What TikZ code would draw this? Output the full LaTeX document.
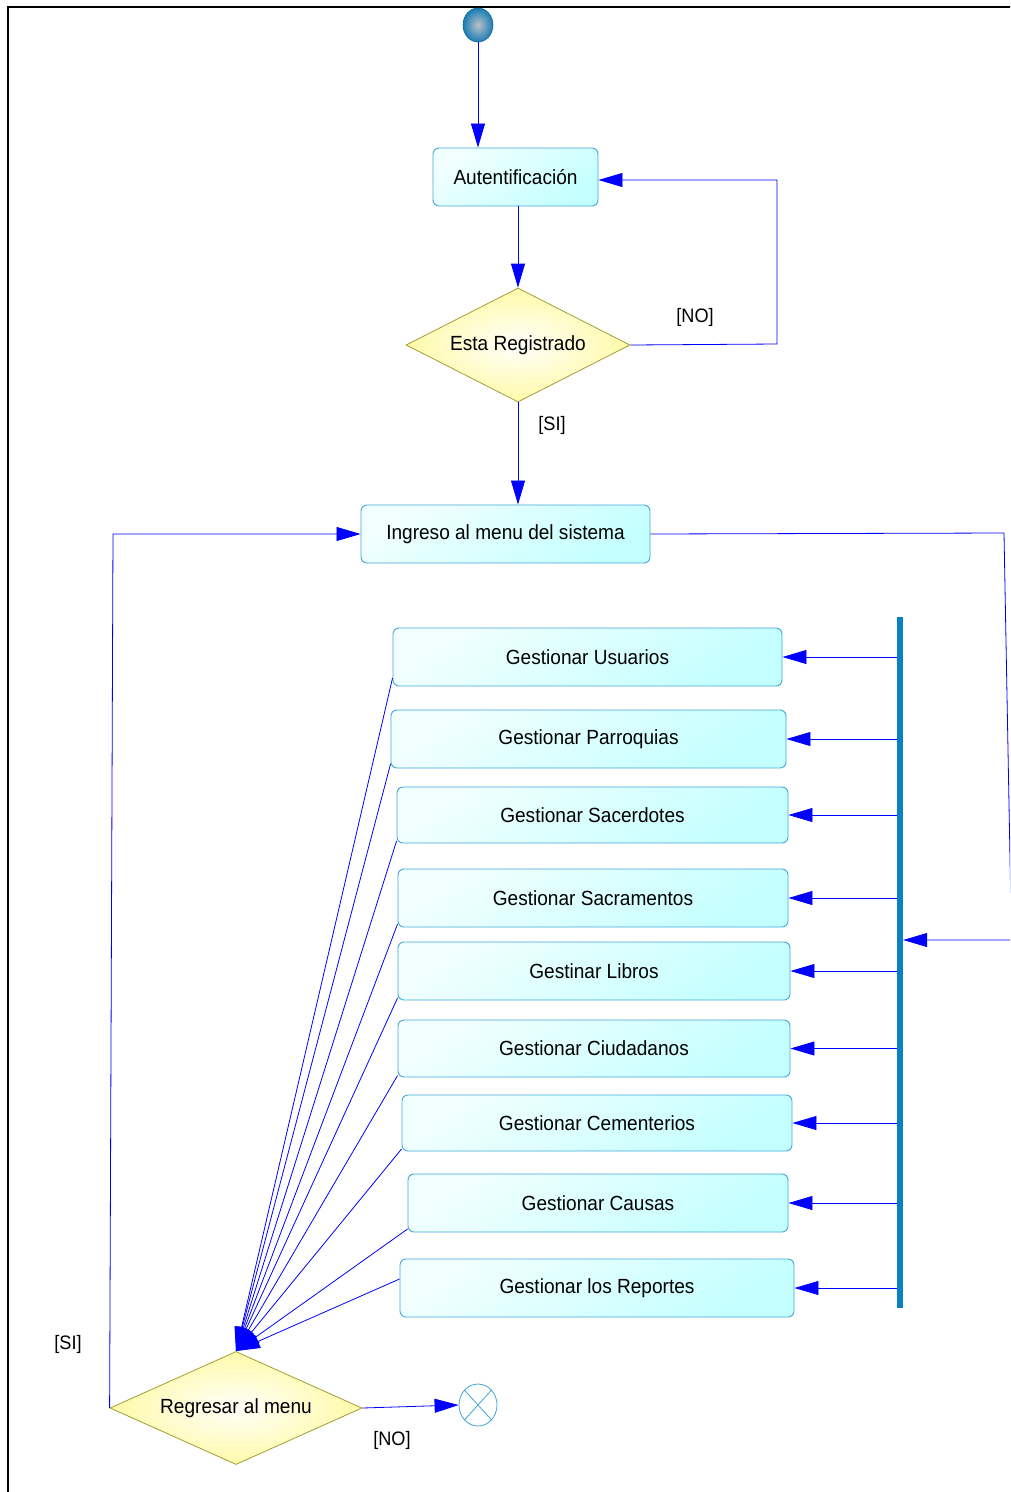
\documentclass[tikz,border=0pt]{standalone}
\usepackage{fontspec}
\setmainfont[FakeStretch=0.93]{Liberation Sans}
\usetikzlibrary{shapes.geometric,arrows.meta,calc}

\definecolor{flow}{RGB}{0,0,255}
\definecolor{boxedge}{RGB}{64,168,216}
\definecolor{boxlight}{RGB}{242,255,255}
\definecolor{boxdark}{RGB}{196,255,255}
\definecolor{decedge}{RGB}{160,160,50}
\definecolor{declight}{RGB}{255,255,250}
\definecolor{decdark}{RGB}{255,250,170}
\definecolor{barblue}{RGB}{10,130,194}
\definecolor{ballin}{RGB}{185,192,200}
\definecolor{ballout}{RGB}{25,125,180}

\begin{document}
\begin{tikzpicture}[x=1pt,y=-1pt,
  font=\fontsize{20.5}{24}\selectfont,
  activity/.style={rectangle, rounded corners=6pt, draw=boxedge, line width=0.9pt,
    top color=boxlight, bottom color=boxdark, shading angle=35,
    minimum height=58pt, inner sep=0pt},
  decision/.style={diamond, shape aspect=2.2, draw=decedge, line width=0.8pt,
    inner color=declight, outer color=decdark, inner sep=0pt},
  startnode/.style={ellipse, minimum width=30pt, minimum height=34pt, inner sep=0pt,
    inner color=ballin, outer color=ballout, draw=ballout!85!black, line width=0.6pt},
  endnode/.style={ellipse, minimum width=38pt, minimum height=42pt, inner sep=0pt,
    draw=boxedge, line width=0.8pt, fill=white},
  forkbar/.style={rectangle, fill=barblue, minimum width=6pt, minimum height=691pt, inner sep=0pt},
  flowline/.style={draw=flow, line width=0.8pt},
  flowarrow/.style={flowline, -{Triangle[length=24pt,width=14pt]}},
  guard/.style={inner sep=0pt, font=\fontsize{19.5}{22}\selectfont}]

\useasboundingbox (0,0) rectangle (1010,1492);
\clip (0,0) rectangle (1010,1492);

% page frame
\draw[line width=2pt] (8,1500) -- (8,7) -- (1020,7);

% login part
\node[startnode] (start) at (478,25) {};
\node[activity, minimum width=165pt] (aut) at (515.5,177) {Autentificación};
\node[decision, minimum width=224pt, minimum height=114pt] (reg) at (518,345) {Esta Registrado};
\node[activity, minimum width=289pt] (ing) at (505.5,534) {Ingreso al menu del sistema};

\node[guard] (noReg) at (695,317) {[NO]};
\node[guard] (siReg) at (552,425) {[SI]};

\draw[flowarrow] (start.south) -- (start.south |- aut.north);
\draw[flowarrow] (reg.north |- aut.south) -- (reg.north);
\coordinate (noA) at (777,344);
\coordinate (noB) at (777,180);
\draw[flowarrow] (reg.east) -- (noA) -- (noB) -- (noB -| aut.east);
\draw[flowarrow] (reg.south) -- (reg.south |- ing.north);

% fork bar and the management activities
\node[forkbar] (bar) at (900,962.5) {};

\node[activity, minimum width=389pt] (gu)  at (587.5,657)  {Gestionar Usuarios};
\node[activity, minimum width=395pt] (gp)  at (588.5,739)  {Gestionar Parroquias};
\node[activity, minimum width=391pt, minimum height=56pt] (gs) at (592.5,815) {Gestionar Sacerdotes};
\node[activity, minimum width=390pt] (gsa) at (593,898)    {Gestionar Sacramentos};
\node[activity, minimum width=392pt] (gl)  at (594,971)    {Gestinar Libros};
\node[activity, minimum width=392pt, minimum height=57pt] (gc) at (594,1048.5) {Gestionar Ciudadanos};
\node[activity, minimum width=390pt, minimum height=56pt] (gce) at (597,1123) {Gestionar Cementerios};
\node[activity, minimum width=380pt] (gca) at (598,1203)   {Gestionar Causas};
\node[activity, minimum width=394pt] (gr)  at (597,1288)   {Gestionar los Reportes};

\coordinate (rA) at (1004,533);
\coordinate (rB) at (1011.5,940);
\draw[flowarrow] (ing.east) -- (rA) -- (rB) -- (bar.east |- rB);

\foreach \n in {gu,gp,gs,gsa,gl,gc,gce,gca,gr}
  \draw[flowarrow] (bar.west |- \n.east) -- (\n.east);

% return decision
\node[decision, minimum width=252pt, minimum height=113pt] (rm) at (236,1408) {Regresar al menu};
\node[endnode] (fin) at (478,1405) {};
\draw[boxedge, line width=0.8pt] (fin.north east) -- (fin.south west)
                                 (fin.north west) -- (fin.south east);

\foreach \n/\dy in {gu/-21,gp/-25,gs/-26,gsa/-26,gl/-27,gc/-27,gce/-26,gca/-26,gr/9}
  \draw[flowarrow] ([yshift=\dy pt]\n.west) -- (rm.north);

\coordinate (siC) at (113,534);
\draw[flowarrow] (rm.west) -- (siC) -- (ing.west);
\draw[flowarrow] (rm.east) -- (fin.west);

\node[guard] (siRm) at (68,1344) {[SI]};
\node[guard] (noRm) at (392,1440) {[NO]};

\end{tikzpicture}
\end{document}
